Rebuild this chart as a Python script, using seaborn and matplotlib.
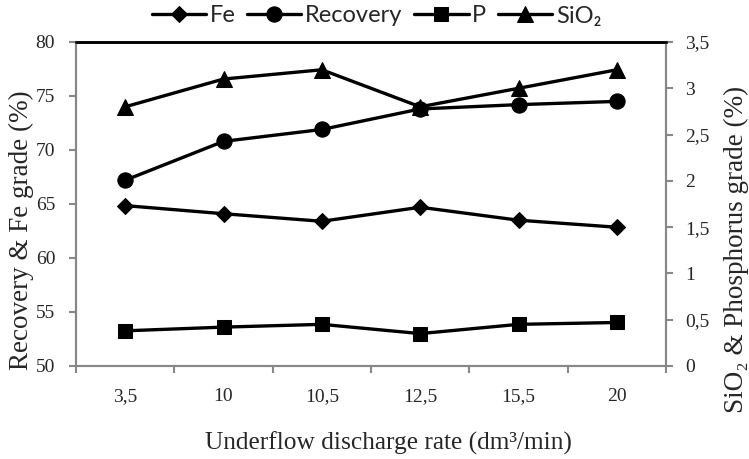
import matplotlib
matplotlib.use("Agg")
import matplotlib.pyplot as plt
import seaborn as sns
import pandas as pd
import numpy as np
from matplotlib.ticker import FixedLocator, NullFormatter, FixedFormatter

categories = ["3,5", "10", "10,5", "12,5", "15,5", "20"]
fe = [64.85, 64.1, 63.4, 64.7, 63.5, 62.85]
recovery = [67.2, 70.8, 71.9, 73.8, 74.2, 74.5]
p = [0.38, 0.42, 0.45, 0.35, 0.45, 0.47]
sio2 = [2.8, 3.1, 3.2, 2.8, 3.0, 3.2]
left_ticks = [50, 55, 60, 65, 70, 75, 80]
right_ticks = [0, 0.5, 1, 1.5, 2, 2.5, 3, 3.5]
right_labels = ["0", "0,5", "1", "1,5", "2", "2,5", "3", "3,5"]

sns.set_theme(style="white")
plt.rcParams["font.family"] = ["Liberation Serif", "DejaVu Serif"]

W, H = 749, 459
fig = plt.figure(figsize=(W/100, H/100), dpi=100)
L, R, T, B = 76, 666, 42, 366
ax = fig.add_axes([L/W, 1-B/H, (R-L)/W, (B-T)/H])
ax2 = ax.twinx()

x = np.arange(len(categories))
df_left = pd.DataFrame({"x": np.concatenate([x, x]),
                        "v": fe + recovery,
                        "s": ["Fe"]*6 + ["Recovery"]*6})
df_right = pd.DataFrame({"x": np.concatenate([x, x]),
                         "v": p + sio2,
                         "s": ["P"]*6 + ["SiO₂"]*6})

lw = 2.4
sns.lineplot(data=df_left[df_left.s == "Fe"], x="x", y="v", ax=ax, color="black",
             marker="D", markersize=8.5, linewidth=lw, markeredgecolor="black", sort=False, legend=False)
sns.lineplot(data=df_left[df_left.s == "Recovery"], x="x", y="v", ax=ax, color="black",
             marker="o", markersize=11, linewidth=lw, markeredgecolor="black", sort=False, legend=False)
sns.lineplot(data=df_right[df_right.s == "P"], x="x", y="v", ax=ax2, color="black",
             marker="s", markersize=10, linewidth=lw, markeredgecolor="black", sort=False, legend=False)
sns.lineplot(data=df_right[df_right.s == "SiO₂"], x="x", y="v", ax=ax2, color="black",
             marker="^", markersize=11, linewidth=lw, markeredgecolor="black", sort=False, legend=False)

ax.set_xlim(-0.5, len(categories) - 0.5)
ax.set_ylim(50, 80)
ax2.set_ylim(0, 3.5)

gray = "#878787"
for a in (ax, ax2):
    for side in ("left", "right", "bottom"):
        a.spines[side].set_color(gray)
        a.spines[side].set_linewidth(1.5)
    a.spines["top"].set_color("black")
    a.spines["top"].set_linewidth(1.8)

ax.xaxis.set_major_locator(FixedLocator(np.arange(-0.5, len(categories), 1.0)))
ax.xaxis.set_major_formatter(NullFormatter())
ax.xaxis.set_minor_locator(FixedLocator(x))
ax.xaxis.set_minor_formatter(FixedFormatter(categories))
ax.tick_params(axis="x", which="major", direction="out", length=5, width=1.5, color=gray, bottom=True)
ax.tick_params(axis="x", which="minor", length=0, labelsize=14, pad=16, bottom=True)

ax.set_yticks(left_ticks)
ax.set_yticklabels([str(t) for t in left_ticks])
ax.tick_params(axis="y", direction="out", length=5, width=1.5, color=gray, labelsize=14, pad=10, left=True)
ax2.set_yticks(right_ticks)
ax2.set_yticklabels(right_labels)
ax2.tick_params(axis="y", direction="out", length=5, width=1.5, color=gray, labelsize=14, pad=9, right=True)

ax.set_xlabel("Underflow discharge rate (dm³/min)", fontsize=18.3)
ax.xaxis.set_label_coords((388 - L) / (R - L), 1 - (443 - T) / (B - T))
ax.xaxis.label.set_verticalalignment("center")
ax.set_ylabel("Recovery & Fe grade (%)", fontsize=19.5)
ax.yaxis.set_label_coords((21 - L) / (R - L), 1 - (230 - T) / (B - T))
ax.yaxis.label.set_verticalalignment("center")
ax2.set_ylabel("SiO₂ & Phosphorus grade (%)", fontsize=19.5)
ax2.yaxis.set_label_coords((736 - L) / (R - L), 1 - (249 - T) / (B - T))
ax2.yaxis.label.set_verticalalignment("center")
ax.grid(False); ax2.grid(False)

handles = [ax.lines[0], ax.lines[1], ax2.lines[0], ax2.lines[1]]
labels = ["Fe", "Recovery", "P", "SiO₂"]
fig.legend(handles, labels, loc="center", bbox_to_anchor=(376.5/W, 1 - 16/H), ncol=4,
           frameon=False, prop={"family": ["Lato", "DejaVu Sans"], "size": 17},
           handlelength=2.3, handletextpad=0.15, columnspacing=0.5, borderaxespad=0,
           borderpad=0)

fig.savefig("out.png", dpi=100)
